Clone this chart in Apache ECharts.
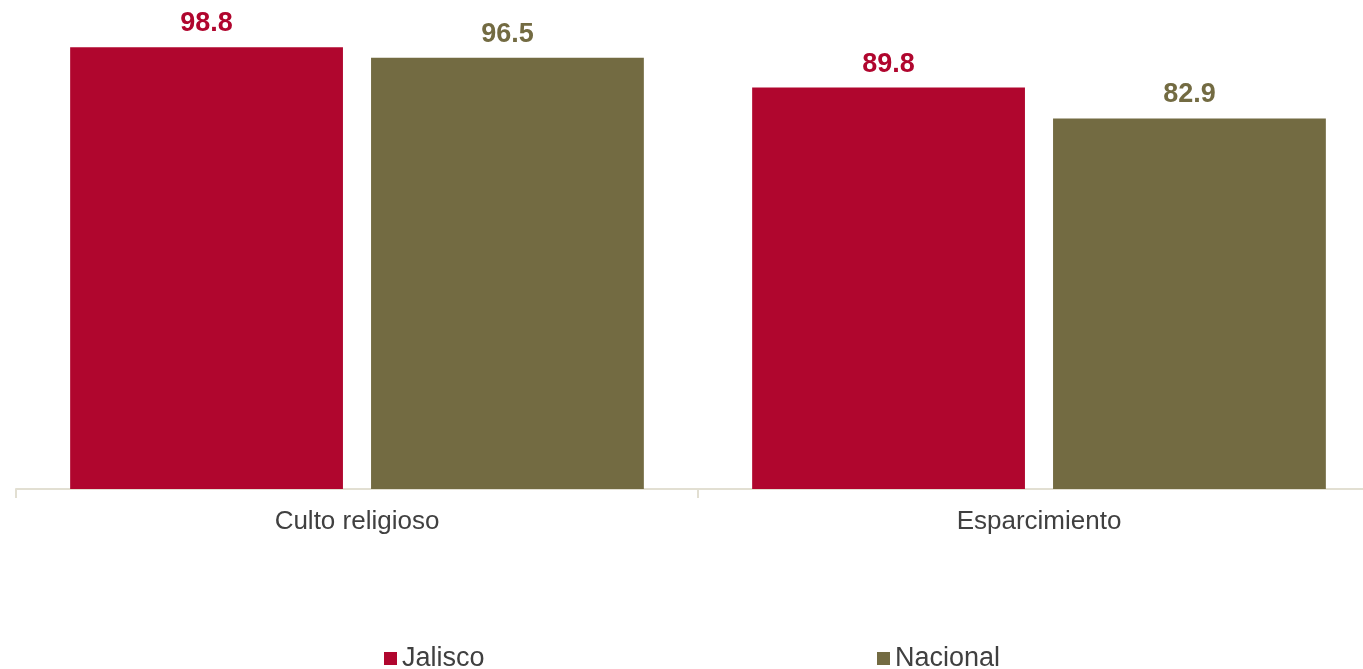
<!DOCTYPE html>
<html>
<head>
<meta charset="utf-8">
<script src="https://cdn.jsdelivr.net/npm/echarts@6/dist/echarts.min.js"></script>
<style>html,body{margin:0;padding:0;background:#fff}#c{width:1363px;height:669px}</style>
</head>
<body>
<div id="c"></div>
<script>
const categories = ['Culto religioso', 'Esparcimiento'];
const seriesNames = ['Jalisco', 'Nacional'];
const jalisco = [98.8, 89.8];
const nacional = [96.5, 82.9];
const colors = ['#b0062e', '#736b42'];

const chart = echarts.init(document.getElementById('c'));
const font = '"Liberation Sans", Arial, sans-serif';
const mkSeries = (name, data, color) => ({
  name, type: 'bar', data,
  barWidth: '40%', barGap: '10.3%',
  itemStyle: { color },
  label: {
    show: true, position: 'top', distance: 10,
    color, fontFamily: font, fontWeight: 'bold', fontSize: 27,
    formatter: p => p.value.toFixed(1)
  }
});
chart.setOption({
  animation: false,
  grid: { left: 16, right: -17, top: 42, bottom: 180, outerBoundsMode: 'none', containLabel: false },
  legend: [
    { data: [seriesNames[0]], left: 384, top: 645, padding: 0, icon: 'rect', itemWidth: 13, itemHeight: 13,
      textStyle: { fontFamily: font, fontSize: 27, color: '#404040' } },
    { data: [seriesNames[1]], left: 877, top: 645, padding: 0, icon: 'rect', itemWidth: 13, itemHeight: 13,
      textStyle: { fontFamily: font, fontSize: 27, color: '#404040' } }
  ],
  xAxis: {
    type: 'category', data: categories,
    axisLine: { lineStyle: { color: '#e2dfd2', width: 2 } },
    axisTick: { show: true, length: 9, lineStyle: { color: '#e2dfd2', width: 2 } },
    axisLabel: { fontFamily: font, fontSize: 26, color: '#404040', margin: 20 }
  },
  yAxis: { type: 'value', min: 0, max: 100, show: false, splitLine: { show: false } },
  series: [mkSeries(seriesNames[0], jalisco, colors[0]), mkSeries(seriesNames[1], nacional, colors[1])]
});
</script>
</body>
</html>
